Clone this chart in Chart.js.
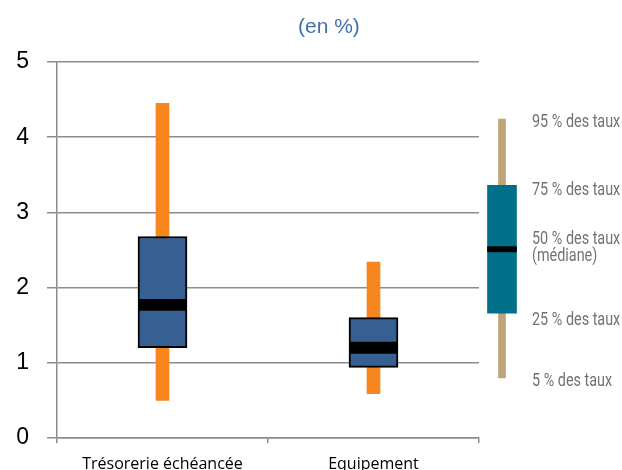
<!DOCTYPE html>
<html>
<head>
<meta charset="utf-8">
<script src="https://cdn.jsdelivr.net/npm/chart.js@4.4.1/dist/chart.umd.min.js"></script>
<style>
  body { margin: 0; background: #fff; }
  #wrap { position: relative; width: 622px; height: 470px; overflow: hidden; }
  #mainBox { position: absolute; left: 0; top: 0; width: 622px; height: 470px; }
  #legendBox { position: absolute; left: 485px; top: 0; width: 34px; height: 470px; }
  #title { position: absolute; left: 298px; top: 14px; font: 21px "Liberation Sans", Arial, sans-serif; color: #4270ad; }
  .lg { position: absolute; left: 532px; font: 18px/17px Roboto, sans-serif; color: #727272; white-space: nowrap;
        transform-origin: left center; transform: translateY(-50%) scaleX(0.8); }
</style>
</head>
<body>
<div id="wrap">
  <div id="mainBox"><canvas id="mainChart"></canvas></div>
  <div id="legendBox"><canvas id="legendChart"></canvas></div>
  <div id="title">(en %)</div>
</div>
<script>
// data (en %)
const categories = ['Trésorerie échéancée', 'Equipement'];
const p5 = [0.50, 0.59];
const p25 = [1.20, 0.94];
const medians = [1.77, 1.20];
const p75 = [2.68, 1.60];
const p95 = [4.45, 2.34];
const yTicks = [0, 1, 2, 3, 4, 5];

// legend graphic (same 0-5 scale)
const legendP5 = 0.80;
const legendP25 = 1.66;
const legendMedian = 2.51;
const legendP75 = 3.36;
const legendP95 = 4.24;
const legendLabels = [['95 % des taux'], ['75 % des taux'], ['50 % des taux', '(médiane)'], ['25 % des taux'], ['5 % des taux']];
const legendLabelPos = [4.23, 3.33, 2.55, 1.60, 0.78];

const gridGrey = '#8c8c8c';
const medianHalf = 0.075;

const whiskers = categories.map((c, i) => [p5[i], p95[i]]);
const boxes = categories.map((c, i) => [p25[i], p75[i]]);
const medianBands = medians.map(m => [m - medianHalf, m + medianHalf]);

new Chart(document.getElementById('mainChart'), {
    type: 'bar',
    data: {
        labels: categories,
        datasets: [
            { data: medianBands, backgroundColor: '#000', barThickness: 47, borderWidth: 0 },
            { data: boxes, backgroundColor: '#365f92', borderColor: '#000', borderWidth: 2, borderSkipped: false, barThickness: 49 },
            { data: whiskers, backgroundColor: '#f7861f', barThickness: 13, borderWidth: 0 }
        ]
    },
    options: {
        responsive: true,
        maintainAspectRatio: false,
        animation: false,
        events: [],
        layout: { padding: { top: 62, right: 143, bottom: 0, left: 0 } },
        plugins: { legend: { display: false }, tooltip: { enabled: false } },
        datasets: { bar: { grouped: false } },
        scales: {
            x: {
                offset: true,
                afterFit: function(scale) { scale.height = 32; },
                grid: { offset: true, drawOnChartArea: false, drawTicks: true, tickLength: 5, color: gridGrey, lineWidth: 1.5 },
                border: { color: gridGrey, width: 1.5 },
                ticks: { color: '#000', padding: 12, maxRotation: 0, font: { family: 'Open Sans', size: 16 } }
            },
            y: {
                min: 0,
                max: 5,
                afterFit: function(scale) { scale.width = 57; },
                afterBuildTicks: function(scale) { scale.ticks = yTicks.map(v => ({ value: v })); },
                grid: { color: gridGrey, lineWidth: 1.5, tickLength: 10 },
                border: { color: gridGrey, width: 1.5 },
                ticks: { color: '#000', padding: 18, font: { family: 'Liberation Sans', size: 23 } }
            }
        }
    }
});

// legend texts placed on the legend chart's own scale
const legendText = {
    id: 'legendText',
    afterDraw: function(chart) {
        if (chart.$textDone) return;
        chart.$textDone = true;
        const wrap = document.getElementById('wrap');
        legendLabels.forEach(function(lines, i) {
            const div = document.createElement('div');
            div.className = 'lg';
            div.innerHTML = lines.join('<br>');
            div.style.top = chart.scales.y.getPixelForValue(legendLabelPos[i]) + 'px';
            wrap.appendChild(div);
        });
    }
};

new Chart(document.getElementById('legendChart'), {
    type: 'bar',
    data: {
        labels: [''],
        datasets: [
            { data: [[legendMedian - 0.035, legendMedian + 0.035]], backgroundColor: '#000', barThickness: 29, borderWidth: 0 },
            { data: [[legendP25, legendP75]], backgroundColor: '#006f8a', barThickness: 29, borderWidth: 0 },
            { data: [[legendP5, legendP95]], backgroundColor: '#bda679', barThickness: 7, borderWidth: 0 }
        ]
    },
    options: {
        responsive: true,
        maintainAspectRatio: false,
        animation: false,
        events: [],
        layout: { padding: { top: 62, right: 0, bottom: 32, left: 0 } },
        plugins: { legend: { display: false }, tooltip: { enabled: false } },
        datasets: { bar: { grouped: false } },
        scales: {
            x: { display: false },
            y: { display: false, min: 0, max: 5 }
        }
    },
    plugins: [legendText]
});
</script>
</body>
</html>
